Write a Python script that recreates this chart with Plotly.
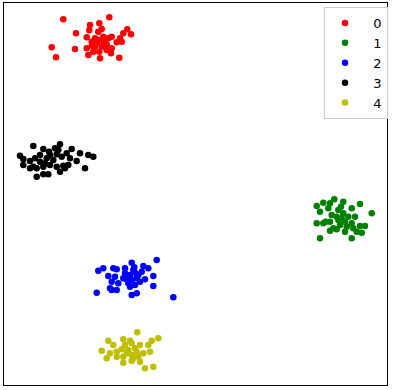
import plotly.graph_objects as go

labels = ["0", "1", "2", "3", "4"]
colors = ["#ff0000", "#008000", "#0000ff", "#000000", "#bfbf00"]

x0 = [63.3, 109.3, 76, 90, 99.3, 101.7, 89.3, 98.3, 86.7, 95, 103.3, 108.3, 111.7, 120, 123.3, 127.3, 131,
      121.7, 116.7, 51.7, 75, 86.7, 91.7, 96.7, 101.7, 106.7, 111.7, 88.3, 93.3, 99.3, 100, 111, 119.3, 56,
      95, 98.3, 103.3, 91.7, 106.7]
y0 = [19.3, 17.3, 33.3, 25, 23.3, 29, 30.3, 31.7, 37.3, 38.3, 36.7, 38.3, 36.7, 38.3, 33.3, 29.3, 34.3,
      41.7, 42.3, 47.3, 49, 48.3, 45.7, 43.3, 46.7, 44.3, 48.3, 55, 51.7, 51.7, 58.3, 53.3, 57.7, 57.3,
      46.7, 40, 41.7, 41.7, 50]

x1 = [316.7, 323.3, 330, 334.3, 343.3, 360, 320, 328.3, 338.3, 341, 343.3, 351.7, 371.7, 331.7, 336.7,
      348.3, 355, 316.7, 323.3, 330, 338.3, 345, 351.7, 333.3, 340, 346.7, 353.3, 360, 365, 330, 336.7,
      345, 356.7, 361.7, 320, 351.7, 341.7, 325.7]
y1 = [206, 202.7, 203.3, 199.3, 201.7, 204, 211.7, 208.3, 210, 206.7, 213.3, 208.3, 213.3, 215, 216.7,
      216.7, 216.7, 223.3, 223.3, 221.7, 220, 221.7, 223.3, 228.3, 225, 226.7, 228.3, 226, 226, 230.7,
      229.3, 231.7, 231.7, 232.7, 238.3, 238.3, 218.3, 221.7]

x2 = [98.3, 103.3, 113.3, 116.7, 125, 131.7, 134.3, 143.3, 148.3, 156.7, 108.3, 115, 125, 130, 135,
      141.7, 153.3, 111.7, 118.3, 126.7, 131.7, 136.7, 145, 111.7, 116.7, 130, 135, 140, 153.3, 96.7,
      131.7, 136.7, 173.3, 133.3, 138.3, 123.3, 128.3, 110]
y2 = [270.7, 268.3, 268.3, 269.3, 268.3, 262.7, 267.3, 266, 268.3, 260, 276, 276.7, 273.3, 275, 272.7,
      271.7, 276, 281.7, 283.3, 279.3, 280, 278.3, 279.3, 290, 290, 286.7, 285, 281.7, 286, 292.7,
      295, 293.3, 297.3, 270, 275, 278.3, 283.3, 288.3]

x3 = [20, 33.3, 43.3, 49, 55, 60, 58.3, 71.7, 80, 88.3, 93.3, 23.3, 30, 35, 40, 46.7, 53.3, 61.7, 70,
      76.7, 30, 36.7, 43.3, 50, 56.7, 63.3, 68.3, 85, 36.7, 43.3, 48.3, 60, 65, 23.3, 50, 56.7, 40,
      66.7, 45, 33.3]
y3 = [155.7, 146, 149, 151.7, 148.3, 144.3, 150, 149, 153.3, 155, 156.7, 165, 161, 158.3, 161.7, 158.3,
      160, 156.7, 158.3, 161, 168.3, 168.3, 166.7, 165, 166.7, 165.7, 165, 168.3, 176.7, 174.3, 174.3,
      171.7, 168.3, 159, 155, 154.3, 155, 153.3, 163.3, 166.7]

x4 = [137.3, 158.3, 151.7, 123.3, 130, 108.3, 113.3, 125, 131.7, 140, 148.3, 101.7, 110, 116.7, 121.7,
      128.3, 136.7, 143.3, 150, 106.7, 116.7, 123.3, 131.7, 138.3, 123.3, 131.7, 140, 133.3, 145, 153.3,
      126.7, 135]
y4 = [332.3, 338.3, 340.7, 339.3, 340.7, 340.7, 345, 345, 343.3, 345, 345, 350.7, 353.3, 351.7, 349.3,
      350, 351.7, 353.3, 351.7, 358.3, 356.7, 356.7, 355, 356.7, 362.7, 360.7, 361.7, 358.3, 368.3,
      366.7, 353.3, 348.3]

xs = [x0, x1, x2, x3, x4]
ys = [y0, y1, y2, y3, y4]

fig = go.Figure()
for lab, col, xv, yv in zip(labels, colors, xs, ys):
    fig.add_trace(go.Scatter(x=xv, y=yv, mode="markers", name="  " + lab,
                             marker=dict(color=col, size=6.5, line=dict(width=0))))

axis_common = dict(showgrid=False, zeroline=False, showticklabels=False, ticks="",
                   showline=True, linecolor="black", linewidth=1, mirror=True)

fig.update_layout(
    width=395, height=390,
    margin=dict(l=4, r=8, t=3, b=5),
    paper_bgcolor="white", plot_bgcolor="white",
    xaxis=dict(range=[4, 387], **axis_common),
    yaxis=dict(range=[385, 3], **axis_common),
    showlegend=True,
    legend=dict(x=0.8355, y=0.9895, xanchor="left", yanchor="top",
                bgcolor="white", bordercolor="#cccccc", borderwidth=1,
                font=dict(family="DejaVu Sans", size=13, color="black"),
                itemwidth=30, tracegroupgap=0),
    font=dict(family="DejaVu Sans"),
)

fig.write_html("out.html", config={"displayModeBar": False},
               post_script="document.body.style.margin='0';document.body.style.padding='0';")
